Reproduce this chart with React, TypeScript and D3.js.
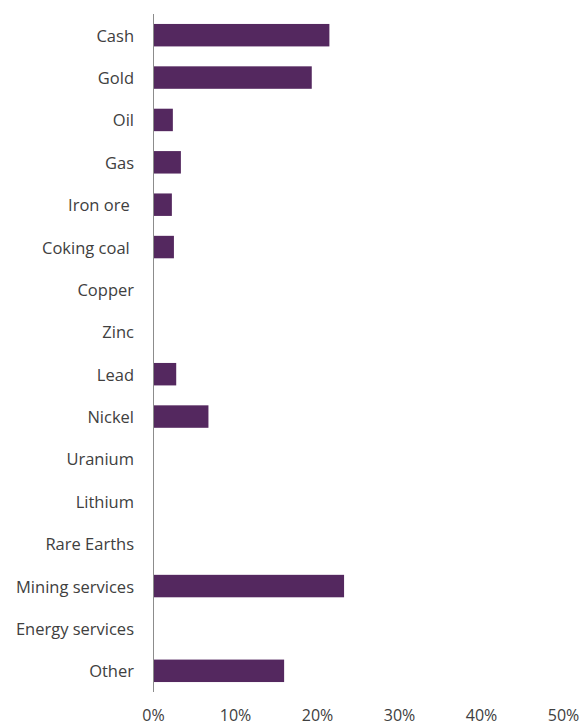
import React from "react";
import * as d3 from "d3";

const categories = [
  "Cash", "Gold", "Oil", "Gas", "Iron ore ", "Coking coal ", "Copper", "Zinc",
  "Lead", "Nickel", "Uranium", "Lithium", "Rare Earths", "Mining services",
  "Energy services", "Other",
];
const values = [21.45, 19.3, 2.36, 3.34, 2.24, 2.49, 0, 0, 2.77, 6.7, 0, 0, 0, 23.24, 0, 15.93];
const ticks = [0, 10, 20, 30, 40, 50];

const W = 583;
const H = 726;
const left = 153.5;
const right = 563.5;
const top = 14;
const bottom = 692;

export default function App() {
  const x = d3.scaleLinear().domain([0, 50]).range([left, right]);
  const y = d3.scaleBand<string>().domain(categories).range([top, bottom]).paddingInner(0.47).paddingOuter(0.235);
  const font = "'Open Sans', 'Noto Sans', sans-serif";
  return (
    <svg width={W} height={H} style={{ position: "absolute", left: 0, top: 0 }}>
      <rect width={W} height={H} fill="#ffffff" />
      {categories.map((c, i) => (
        <rect
          key={c}
          x={x(0)}
          y={y(c)!}
          width={x(values[i]) - x(0)}
          height={y.bandwidth()}
          fill="#54285f"
        />
      ))}
      <line x1={left} x2={left} y1={top} y2={bottom} stroke="#8c8c8c" strokeWidth={1} />
      {categories.map((c) => (
        <text
          key={"l" + c}
          x={134}
          y={y(c)! + y.bandwidth() / 2}
          textAnchor="end"
          dominantBaseline="central"
          fontFamily={font}
          fontSize={16.5}
          fill="#404040"
          style={{ whiteSpace: "pre" }}
        >
          {c}
        </text>
      ))}
      {ticks.map((t) => (
        <text
          key={"t" + t}
          x={x(t)}
          y={721}
          textAnchor="middle"
          fontFamily={font}
          fontSize={16}
          fill="#404040"
        >
          {t + "%"}
        </text>
      ))}
    </svg>
  );
}
